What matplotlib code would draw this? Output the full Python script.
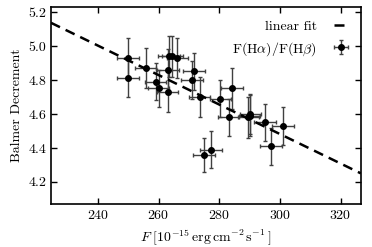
import matplotlib as mpl
mpl.use("Agg")
import matplotlib.pyplot as plt
import numpy as np

mpl.rcParams["font.family"] = "cmr10"
mpl.rcParams["mathtext.fontset"] = "cm"
mpl.rcParams["axes.formatter.use_mathtext"] = True
mpl.rcParams["font.size"] = 10
mpl.rcParams["axes.unicode_minus"] = False

# flux and Balmer decrement
flux = [250.0, 250.0, 255.7, 259.0, 260.0, 263.0, 263.4, 264.5, 266.2,
        263.0, 271.7, 271.0, 273.6, 280.4, 284.3, 283.1, 289.6, 290.0,
        290.3, 295.0, 301.0, 297.0, 277.4, 275.0]
decrement = [4.93, 4.81, 4.87, 4.79, 4.75, 4.86, 4.94, 4.94, 4.93,
             4.73, 4.85, 4.80, 4.70, 4.69, 4.75, 4.58, 4.58, 4.59,
             4.60, 4.55, 4.53, 4.41, 4.39, 4.36]
flux_err = [3.6, 3.6, 3.6, 3.5, 3.5, 3.6, 3.5, 3.5, 3.5,
            3.5, 3.6, 3.5, 3.5, 3.6, 3.6, 3.5, 3.5, 3.6,
            3.5, 3.6, 3.6, 3.6, 3.6, 3.5]
decrement_err = [0.12, 0.11, 0.12, 0.11, 0.11, 0.12, 0.12, 0.12, 0.12,
                 0.12, 0.11, 0.11, 0.12, 0.11, 0.12, 0.11, 0.12, 0.12,
                 0.12, 0.11, 0.11, 0.11, 0.11, 0.10]

# linear fit parameters
fit_slope = -0.00867
fit_intercept = 7.083
fit_range = [224.5, 326.7]

fig = plt.figure(figsize=(3.72, 2.47), dpi=100)
ax = fig.add_axes([0.137, 0.174, 0.833, 0.798])

fx = np.array(fit_range)
ax.plot(fx, fit_intercept + fit_slope * fx, "k--", lw=1.8, dashes=(4, 2.5),
        label="linear fit", zorder=3)
ax.errorbar(flux, decrement, xerr=flux_err, yerr=decrement_err,
            fmt="o", color="k", ecolor="0.25", ms=4, elinewidth=1.0,
            capsize=1.5, capthick=1.0, label=r"F(H$\alpha$)/F(H$\beta$)",
            zorder=2)

ax.set_xlim(224.5, 326.7)
ax.set_ylim(4.07, 5.23)
ax.set_xticks([240, 260, 280, 300, 320])
ax.set_yticks([4.2, 4.4, 4.6, 4.8, 5.0, 5.2])
ax.yaxis.set_major_formatter(mpl.ticker.FormatStrFormatter("%.1f"))
ax.tick_params(direction="in", top=True, right=True, length=4, width=1)
for s in ax.spines.values():
    s.set_linewidth(1.2)

ax.set_xlabel(r"$F\ [10^{-15}\,\mathrm{erg\,cm^{-2}\,s^{-1}}\,]$")
ax.set_ylabel("Balmer Decrement")
ax.legend(loc="upper right", frameon=False, markerfirst=False,
          handlelength=1.0, handletextpad=1.2, borderaxespad=0.55,
          labelspacing=0.5)

fig.savefig("out.png", dpi=100)
